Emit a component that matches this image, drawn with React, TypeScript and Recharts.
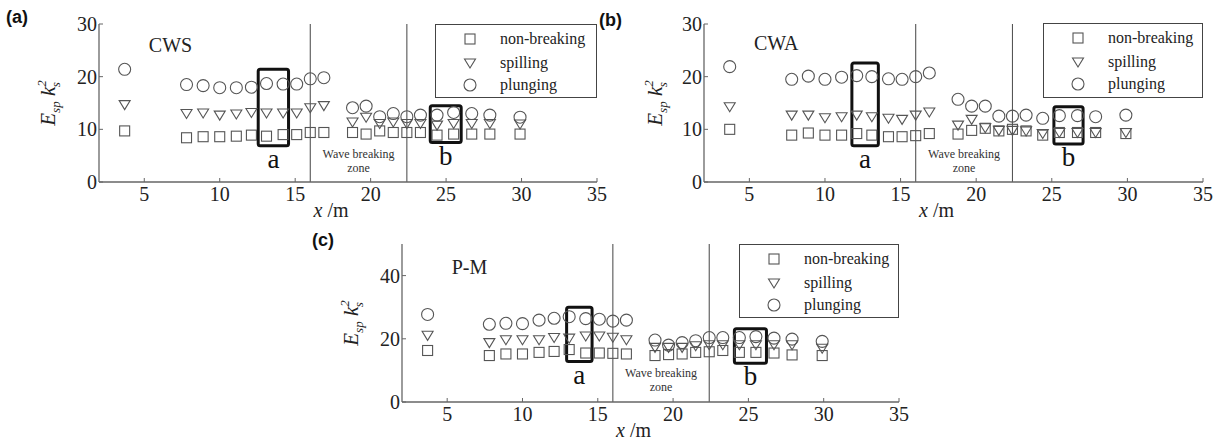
import React from 'react';
import { ScatterChart, Scatter, XAxis, YAxis, ReferenceLine, ReferenceArea, ReferenceDot, Legend } from 'recharts';

// gauge positions along the flume (m), same for every panel
const X_POS = [3.7, 7.8, 8.9, 10, 11.1, 12.1, 13.1, 14.2, 15.1, 16, 16.9, 18.8, 19.7, 20.6, 21.5, 22.4, 23.3, 24.4, 25.5, 26.7, 27.9, 29.9];
const X_TICKS = [5, 10, 15, 20, 25, 30, 35];
const SERIES_NAMES = ['non-breaking', 'spilling', 'plunging'];

// (a) CWS
const CWS_NON = [9.7, 8.4, 8.6, 8.6, 8.7, 8.9, 8.7, 9.0, 9.0, 9.4, 9.4, 9.4, 9.1, 9.7, 9.4, 9.4, 9.4, 8.9, 9.1, 9.1, 9.1, 9.1];
const CWS_SPILL = [14.7, 13.0, 13.1, 12.7, 12.9, 13.2, 13.1, 13.1, 13.1, 14.1, 14.5, 11.4, 12.3, 11.1, 11.4, 11.1, 11.1, 10.8, 11.1, 11.1, 11.1, 11.0];
const CWS_PLUNGE = [21.4, 18.5, 18.3, 17.9, 17.9, 18.0, 18.7, 18.6, 18.6, 19.6, 19.8, 14.1, 14.4, 12.4, 13.0, 12.4, 12.7, 12.7, 13.2, 13.0, 12.7, 12.3];

// (b) CWA
const CWA_NON = [10.0, 8.9, 9.3, 8.9, 8.9, 9.2, 8.9, 8.6, 8.6, 8.8, 9.2, 9.1, 9.8, 10.2, 9.7, 10.0, 9.7, 8.9, 9.4, 9.4, 9.4, 9.2];
const CWA_SPILL = [14.3, 12.7, 12.7, 12.2, 12.4, 12.7, 12.4, 12.1, 11.9, 12.7, 13.3, 10.8, 11.9, 10.3, 9.8, 9.8, 9.7, 9.2, 9.4, 9.4, 9.4, 9.4];
const CWA_PLUNGE = [21.9, 19.5, 20.1, 19.5, 19.9, 20.2, 20.0, 19.6, 19.5, 20.0, 20.7, 15.7, 14.4, 14.4, 12.5, 12.5, 12.7, 12.1, 12.6, 12.6, 12.4, 12.7];

// (c) P-M
const PM_NON = [16.3, 14.7, 15.2, 15.2, 15.7, 16.0, 16.6, 15.5, 15.5, 15.4, 15.2, 14.7, 15.0, 15.2, 15.7, 15.9, 16.3, 15.7, 15.7, 15.5, 14.9, 14.7];
const PM_SPILL = [21.1, 18.8, 19.7, 19.7, 19.7, 20.4, 20.2, 20.9, 20.9, 20.5, 19.7, 17.3, 17.3, 17.3, 17.8, 18.1, 18.1, 18.1, 18.1, 18.1, 18.1, 17.0];
const PM_PLUNGE = [27.7, 24.6, 24.9, 24.8, 25.9, 26.5, 27.0, 26.4, 26.2, 25.6, 25.9, 19.6, 18.0, 18.8, 19.4, 20.4, 20.4, 20.4, 20.7, 20.2, 19.9, 19.2];

const FONT = '"Liberation Serif", "Times New Roman", serif';
const AXIS = '#666';
const MARK = '#555';

const Square = (p: any) => (
  <rect x={p.cx - 5} y={p.cy - 5} width={10} height={10} fill="none" stroke={MARK} strokeWidth={1.1} />
);
const Tri = (p: any) => (
  <path d={`M${p.cx - 5.5},${p.cy - 4} L${p.cx + 5.5},${p.cy - 4} L${p.cx},${p.cy + 5} Z`} fill="none" stroke={MARK} strokeWidth={1.1} />
);
const Circ = (p: any) => <circle cx={p.cx} cy={p.cy} r={6} fill="none" stroke={MARK} strokeWidth={1.1} />;
const SHAPES = [Square, Tri, Circ];

// serif tick labels (recharts' own tick text ignores fontFamily)
const XTick = (t: any) => (
  <text x={t.x} y={t.y} dy="0.71em" textAnchor="middle" fontFamily={FONT} fontSize={20} fill="#222">
    {t.payload.value}
  </text>
);
const YTick = (t: any) => (
  <text x={t.x} y={t.y} dy="0.35em" textAnchor="end" fontFamily={FONT} fontSize={20} fill="#222">
    {t.payload.value}
  </text>
);

const panels = [
  {
    tag: '(a)', tagLeft: 6, tagTop: 8, title: 'CWS', left: 0, top: 0, width: 620, height: 222,
    margin: { top: 24, right: 23, bottom: 0, left: 0 }, yWidth: 99, xHeight: 40,
    yDomain: [0, 30], yTicks: [0, 10, 20, 30], titleY: 26, zoneY: 5.3,
    boxA: [12.55, 14.56, 6.9, 21.4], boxB: [23.95, 26.0, 7.5, 14.5],
    legend: { left: 435, top: 24, width: 162, height: 74 }, yLabelX: 55,
    series: [CWS_NON, CWS_SPILL, CWS_PLUNGE],
  },
  {
    tag: '(b)', tagLeft: 599, tagTop: 11, title: 'CWA', left: 600, top: 0, width: 623, height: 222,
    margin: { top: 24, right: 20, bottom: 0, left: 0 }, yWidth: 104, xHeight: 40,
    yDomain: [0, 30], yTicks: [0, 10, 20, 30], titleY: 26.3, zoneY: 5.3,
    boxA: [11.78, 13.53, 6.9, 22.6], boxB: [25.14, 27.07, 7.2, 14.3],
    legend: { left: 443, top: 23, width: 160, height: 75 }, yLabelX: 62,
    series: [CWA_NON, CWA_SPILL, CWA_PLUNGE],
  },
  {
    tag: '(c)', tagLeft: 312, tagTop: 231, title: 'P-M', left: 300, top: 220, width: 620, height: 224,
    margin: { top: 24, right: 21, bottom: 0, left: 0 }, yWidth: 102, xHeight: 42,
    yDomain: [0, 50], yTicks: [0, 20, 40], titleY: 42.8, zoneY: 9.1,
    boxA: [12.93, 14.62, 12.8, 30], boxB: [24.07, 26.2, 12.3, 23.2],
    legend: { left: 439, top: 24, width: 160, height: 74 }, yLabelX: 58,
    series: [PM_NON, PM_SPILL, PM_PLUNGE],
  },
];

const ROW_Y = [14, 38, 60];

function Panel({ p }: { p: any }) {
  const pts = (arr: number[]) => X_POS.map((x, i) => ({ x, y: arr[i] }));

  const yLabel = (lp: any) => {
    const vb = lp.viewBox;
    const cx = p.yLabelX;
    const cy = vb.y + vb.height / 2;
    return (
      <text x={cx} y={cy} transform={`rotate(-90, ${cx}, ${cy})`} textAnchor="middle" fontFamily={FONT} fontSize={21} fontStyle="italic" fill="#222">
        <tspan>E</tspan>
        <tspan fontSize={13} dy={5}>sp</tspan>
        <tspan dy={-5}> k</tspan>
        <tspan fontSize={13} dy={-9}>2</tspan>
        <tspan fontSize={13} dx={-7} dy={14}>s</tspan>
      </text>
    );
  };

  const xLabel = (lp: any) => {
    const vb = lp.viewBox;
    return (
      <text x={vb.x + vb.width / 2 - 17} y={vb.y + 35} textAnchor="middle" fontFamily={FONT} fontSize={20} fill="#222">
        <tspan fontStyle="italic">x</tspan>
        <tspan> /m</tspan>
      </text>
    );
  };

  // legend keeps the series order (recharts sorts payload by name otherwise)
  const legendBox = () => (
    <div style={{ width: p.legend.width, height: p.legend.height, border: '1px solid #444', boxSizing: 'border-box', position: 'relative', fontFamily: FONT, fontSize: 16, color: '#222' }}>
      {SERIES_NAMES.map((name, i) => {
        const Shape = SHAPES[i];
        return (
          <div key={name} style={{ position: 'absolute', left: 0, top: ROW_Y[i] - 10, height: 20, display: 'flex', alignItems: 'center' }}>
            <svg width={64} height={20} style={{ display: 'block' }}>
              <Shape cx={34} cy={10} />
            </svg>
            <span style={{ lineHeight: '20px' }}>{name}</span>
          </div>
        );
      })}
    </div>
  );

  const boxLabel = (v: string) => ({ value: v, position: 'bottom' as const, offset: 3, fontSize: 27, fontFamily: FONT, fill: '#111' });

  return (
    <div style={{ position: 'absolute', left: p.left, top: p.top, fontFamily: FONT }}>
      <ScatterChart width={p.width} height={p.height} margin={p.margin}>
        <XAxis
          xAxisId="b" dataKey="x" type="number" domain={[2, 35]} ticks={X_TICKS} height={p.xHeight}
          tick={XTick} tickSize={-4} tickMargin={9} tickLine={{ stroke: AXIS }} axisLine={{ stroke: AXIS, strokeWidth: 1.3 }}
          label={{ content: xLabel }}
        />
        <XAxis
          xAxisId="t" orientation="top" type="number" domain={[2, 35]} ticks={X_TICKS} height={0}
          tick={false} tickSize={-4} tickLine={{ stroke: AXIS }} axisLine={{ stroke: AXIS, strokeWidth: 1.3 }}
        />
        <YAxis
          yAxisId="l" dataKey="y" type="number" domain={p.yDomain} ticks={p.yTicks} width={p.yWidth}
          tick={YTick} tickSize={-4} tickMargin={6} tickLine={{ stroke: AXIS }} axisLine={{ stroke: AXIS, strokeWidth: 1.3 }}
          label={{ content: yLabel }}
        />
        <YAxis
          yAxisId="r" orientation="right" type="number" domain={p.yDomain} ticks={p.yTicks} width={0}
          tick={false} tickSize={-4} tickLine={{ stroke: AXIS }} axisLine={{ stroke: AXIS, strokeWidth: 1.3 }}
        />

        <ReferenceLine xAxisId="b" yAxisId="l" x={16} stroke={MARK} strokeWidth={1.1} />
        <ReferenceLine xAxisId="b" yAxisId="l" x={22.4} stroke={MARK} strokeWidth={1.1} />

        <ReferenceDot
          xAxisId="b" yAxisId="l" x={5.3} y={p.titleY} r={0}
          shape={(s: any) => (
            <text x={s.cx} y={s.cy} dominantBaseline="central" fontFamily={FONT} fontSize={20} fill="#222">{p.title}</text>
          )}
        />
        <ReferenceDot
          xAxisId="b" yAxisId="l" x={19.2} y={p.zoneY} r={0}
          shape={(s: any) => (
            <text x={s.cx} y={s.cy} textAnchor="middle" fontFamily={FONT} fontSize={12} fill="#333">
              <tspan x={s.cx} dy="0.35em">Wave breaking</tspan>
              <tspan x={s.cx} dy={14}>zone</tspan>
            </text>
          )}
        />

        <ReferenceArea
          xAxisId="b" yAxisId="l" x1={p.boxA[0]} x2={p.boxA[1]} y1={p.boxA[2]} y2={p.boxA[3]}
          fill="none" stroke="#111" strokeWidth={3} radius={2} label={boxLabel('a')}
        />
        <ReferenceArea
          xAxisId="b" yAxisId="l" x1={p.boxB[0]} x2={p.boxB[1]} y1={p.boxB[2]} y2={p.boxB[3]}
          fill="none" stroke="#111" strokeWidth={3} radius={2} label={boxLabel('b')}
        />

        {p.series.map((arr: number[], i: number) => (
          <Scatter
            key={SERIES_NAMES[i]} name={SERIES_NAMES[i]} xAxisId="b" yAxisId="l"
            data={pts(arr)} shape={SHAPES[i]} isAnimationActive={false}
          />
        ))}

        <Legend
          layout="horizontal" verticalAlign="middle" align="center"
          wrapperStyle={{ left: p.legend.left, top: p.legend.top, width: p.legend.width, height: p.legend.height }}
          content={legendBox}
        />
      </ScatterChart>
      <div style={{ position: 'absolute', left: p.tagLeft - p.left, top: p.tagTop - p.top, fontFamily: '"Liberation Sans", Arial, sans-serif', fontWeight: 'bold', fontSize: 18, lineHeight: 1, color: '#111' }}>
        {p.tag}
      </div>
    </div>
  );
}

export default function App() {
  return (
    <div style={{ position: 'absolute', left: 0, top: 0, width: 1223, height: 444, background: '#fff', overflow: 'hidden', fontFamily: FONT }}>
      {panels.map((p) => (
        <Panel key={p.tag} p={p} />
      ))}
    </div>
  );
}
